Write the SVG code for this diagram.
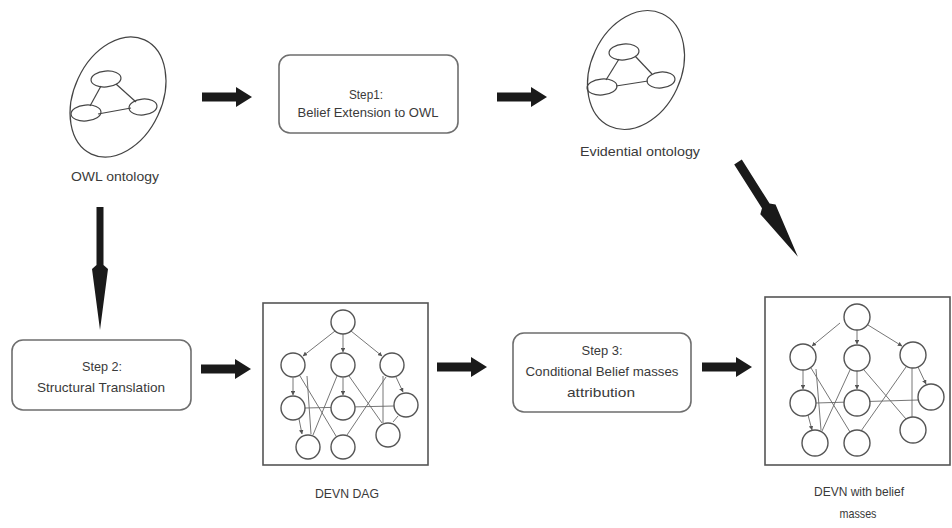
<svg xmlns="http://www.w3.org/2000/svg" width="952" height="528" viewBox="0 0 952 528">
<style>
.lbl{font-family:"Liberation Sans",Arial,sans-serif;font-size:13px;fill:#3a3a3a;text-anchor:middle}
.step{fill:#fff;stroke:#6e6e6e;stroke-width:1.6}
.onto{fill:none;stroke:#444;stroke-width:1.2}
.frame{fill:#fff;stroke:#555;stroke-width:1.6}
.nd{fill:#fff;stroke:#555;stroke-width:1.4}
.ed{stroke:#666;stroke-width:0.9;fill:none}
.ar{fill:#1a1a1a}
</style>
<defs>
<marker id="sm" viewBox="0 0 6 6" refX="5.5" refY="3" markerWidth="5" markerHeight="5" orient="auto"><path d="M0,0 L6,3 L0,6 Z" fill="#555"/></marker>
<path id="blk" d="M0,-4.5 L34,-4.5 L34,-10 L50,0 L34,10 L34,4.5 L0,4.5 Z"/>
</defs>
<rect width="952" height="528" fill="#fff"/>

<g id="owl-ontology">
<ellipse class="onto" cx="118" cy="97" rx="44" ry="63" transform="rotate(25 118 97)"/>
<line class="onto" x1="101" y1="86" x2="90" y2="106"/>
<line class="onto" x1="116" y1="84" x2="136" y2="102"/>
<line class="onto" x1="98" y1="114" x2="131" y2="108"/>
<ellipse class="onto" cx="106" cy="79" rx="15" ry="8" transform="rotate(-5 106 79)"/>
<ellipse class="onto" cx="86" cy="113" rx="15" ry="8" transform="rotate(-5 86 113)"/>
<ellipse class="onto" cx="143" cy="107" rx="14" ry="8" transform="rotate(-5 143 107)"/>
<text class="lbl" x="115" y="181" textLength="88" lengthAdjust="spacingAndGlyphs">OWL ontology</text>
</g>

<g id="step1">
<rect class="step" x="279" y="55" width="179" height="78" rx="11"/>
<text class="lbl" x="366" y="99" textLength="34" lengthAdjust="spacingAndGlyphs">Step1:</text>
<text class="lbl" x="368" y="117" textLength="141" lengthAdjust="spacingAndGlyphs">Belief Extension to OWL</text>
</g>

<g id="evidential-ontology">
<ellipse class="onto" cx="636" cy="70" rx="45" ry="62" transform="rotate(25 636 70)"/>
<line class="onto" x1="619" y1="59" x2="606" y2="80"/>
<line class="onto" x1="635" y1="56" x2="652" y2="74"/>
<line class="onto" x1="616" y1="86" x2="648" y2="81"/>
<ellipse class="onto" cx="624" cy="52" rx="15" ry="8" transform="rotate(-5 624 52)"/>
<ellipse class="onto" cx="602" cy="87" rx="15" ry="8" transform="rotate(-5 602 87)"/>
<ellipse class="onto" cx="661" cy="80" rx="14" ry="8" transform="rotate(-5 661 80)"/>
<text class="lbl" x="640" y="156" textLength="120" lengthAdjust="spacingAndGlyphs">Evidential ontology</text>
</g>

<g id="step2">
<rect class="step" x="12" y="340" width="179" height="70" rx="11"/>
<text class="lbl" x="102" y="371" textLength="40" lengthAdjust="spacingAndGlyphs">Step 2:</text>
<text class="lbl" x="101" y="392" textLength="128" lengthAdjust="spacingAndGlyphs">Structural Translation</text>
</g>

<g id="devn-dag">
<rect class="frame" x="263" y="303" width="165" height="162"/>
<g class="ed">
<line x1="335" y1="331" x2="303" y2="356" marker-end="url(#sm)"/>
<line x1="343" y1="334" x2="343" y2="352" marker-end="url(#sm)"/>
<line x1="351" y1="331" x2="382" y2="356" marker-end="url(#sm)"/>
<line x1="293" y1="378" x2="293" y2="395" marker-end="url(#sm)"/>
<line x1="343" y1="378" x2="343" y2="395" marker-end="url(#sm)"/>
<line x1="396" y1="377" x2="403" y2="392" marker-end="url(#sm)"/>
<line x1="305" y1="408" x2="394" y2="406"/>
<line x1="299" y1="419" x2="302" y2="434" marker-end="url(#sm)"/>
<line x1="300" y1="376" x2="336" y2="436"/>
<line x1="307" y1="376" x2="311" y2="434"/>
<line x1="337" y1="376" x2="313" y2="435"/>
<line x1="349" y1="376" x2="382" y2="423"/>
<line x1="386" y1="377" x2="347" y2="435"/>
<line x1="398" y1="416" x2="393" y2="422"/>
<line x1="383" y1="376" x2="383" y2="423"/>
</g>
<circle class="nd" cx="343" cy="322" r="12"/>
<circle class="nd" cx="293" cy="365" r="12"/>
<circle class="nd" cx="343" cy="365" r="12"/>
<circle class="nd" cx="392" cy="365" r="12"/>
<circle class="nd" cx="293" cy="408" r="12"/>
<circle class="nd" cx="343" cy="408" r="12"/>
<circle class="nd" cx="406" cy="405" r="12"/>
<circle class="nd" cx="308" cy="447" r="12"/>
<circle class="nd" cx="343" cy="447" r="12"/>
<circle class="nd" cx="388" cy="435" r="12"/>
<text class="lbl" x="347" y="498" textLength="64" lengthAdjust="spacingAndGlyphs">DEVN DAG</text>
</g>

<g id="step3">
<rect class="step" x="513" y="333" width="178" height="79" rx="11"/>
<text class="lbl" x="602" y="355" textLength="41" lengthAdjust="spacingAndGlyphs">Step 3:</text>
<text class="lbl" x="602" y="376" textLength="153" lengthAdjust="spacingAndGlyphs">Conditional Belief masses</text>
<text class="lbl" x="601" y="397" textLength="68" lengthAdjust="spacingAndGlyphs">attribution</text>
</g>

<g id="devn-belief">
<rect class="frame" x="765" y="297" width="185" height="168"/>
<g class="ed">
<line x1="840" y1="323" x2="812" y2="346" marker-end="url(#sm)"/>
<line x1="857" y1="330" x2="857" y2="344" marker-end="url(#sm)"/>
<line x1="868" y1="325" x2="902" y2="346" marker-end="url(#sm)"/>
<line x1="803" y1="370" x2="803" y2="389" marker-end="url(#sm)"/>
<line x1="857" y1="371" x2="857" y2="389" marker-end="url(#sm)"/>
<line x1="918" y1="367" x2="926" y2="384" marker-end="url(#sm)"/>
<line x1="816" y1="403" x2="918" y2="400"/>
<line x1="808" y1="415" x2="812" y2="430" marker-end="url(#sm)"/>
<line x1="811" y1="368" x2="850" y2="432"/>
<line x1="816" y1="369" x2="821" y2="430"/>
<line x1="850" y1="370" x2="822" y2="431"/>
<line x1="864" y1="370" x2="906" y2="419"/>
<line x1="906" y1="367" x2="861" y2="431"/>
<line x1="912" y1="368" x2="912" y2="417"/>
</g>
<circle class="nd" cx="857" cy="317" r="13"/>
<circle class="nd" cx="803" cy="357" r="13"/>
<circle class="nd" cx="857" cy="358" r="13"/>
<circle class="nd" cx="913" cy="355" r="13"/>
<circle class="nd" cx="803" cy="403" r="13"/>
<circle class="nd" cx="857" cy="403" r="13"/>
<circle class="nd" cx="931" cy="397" r="13"/>
<circle class="nd" cx="815" cy="443" r="13"/>
<circle class="nd" cx="857" cy="443" r="13"/>
<circle class="nd" cx="913" cy="430" r="13"/>
<text class="lbl" x="859" y="496" textLength="90" lengthAdjust="spacingAndGlyphs">DEVN with belief</text>
<text class="lbl" x="858" y="518" textLength="37" lengthAdjust="spacingAndGlyphs">masses</text>
</g>

<g id="connectors">
<use href="#blk" class="ar" transform="translate(202,97)"/>
<use href="#blk" class="ar" transform="translate(497,97)"/>
<use href="#blk" class="ar" transform="translate(201,369)"/>
<use href="#blk" class="ar" transform="translate(437,367)"/>
<use href="#blk" class="ar" transform="translate(702,367)"/>
<path class="ar" d="M0,-3.5 L58,-3.5 L62,-8 L123,0 L62,8 L58,3.5 L0,3.5 Z" transform="translate(100,207) rotate(90)"/>
<path class="ar" d="M0,-4.5 L52,-4.5 L56,-9 L112,0 L56,9 L52,4.5 L0,4.5 Z" transform="translate(738,162) rotate(57.7)"/>
</g>
</svg>
